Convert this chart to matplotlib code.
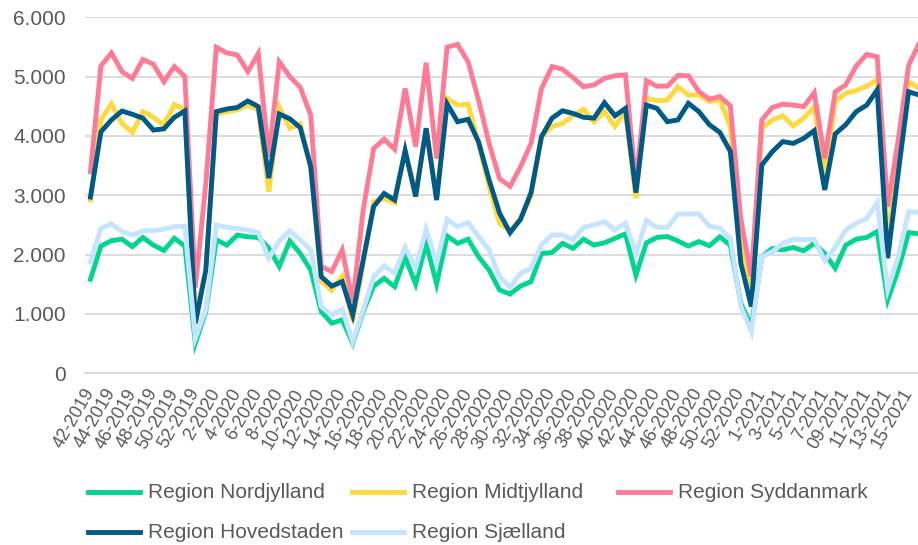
import matplotlib
matplotlib.use("Agg")
import matplotlib.pyplot as plt
from matplotlib.lines import Line2D
from matplotlib.ticker import FuncFormatter

plt.rcParams['font.family'] = ['Liberation Sans', 'DejaVu Sans']

weeks = ([f"{w}-2019" for w in range(42, 53)]
         + [f"{w}-2020" for w in range(1, 54)]
         + [("09" if w == 9 else str(w)) + "-2021" for w in range(1, 17)])

nordjylland = [1585, 2145, 2235, 2260, 2135, 2290, 2160, 2070, 2275, 2145,
               505, 1040, 2250, 2160, 2330, 2300, 2290, 2110, 1800, 2230,
               2020, 1740, 1040, 845, 900, 505, 1040, 1470, 1600, 1460,
               1955, 1505, 2190, 1505, 2315, 2190, 2260, 1965, 1740, 1405,
               1335, 1470, 1545, 2020, 2035, 2190, 2105, 2260, 2160, 2200,
               2275, 2350, 1655, 2200, 2290, 2305, 2230, 2145, 2220, 2150,
               2300, 2160, 1180, 790, 1965, 2105, 2080, 2120, 2065, 2190,
               2020, 1770, 2160, 2260, 2290, 2390, 1235, 1740, 2370, 2350]

midtjylland = [2920, 4270, 4540, 4210, 4060, 4410, 4315, 4185, 4530, 4440,
               950, 1750, 4370, 4410, 4440, 4520, 4440, 3060, 4480, 4130,
               4200, 3500, 1550, 1400, 1630, 880, 1850, 2890, 2950, 2875,
               3775, 3030, 4130, 2950, 4635, 4520, 4535, 3875, 3145, 2530,
               2400, 2610, 2980, 3990, 4160, 4210, 4340, 4450, 4240, 4410,
               4160, 4410, 2950, 4635, 4595, 4605, 4830, 4690, 4690, 4580,
               4610, 4150, 2200, 1400, 4130, 4270, 4340, 4170, 4300, 4495,
               3315, 4580, 4720, 4765, 4840, 4945, 2250, 3540, 4915, 4800]

syddanmark = [3400, 5180, 5400, 5085, 4970, 5290, 5210, 4915, 5170, 5000,
              1450, 3200, 5495, 5400, 5365, 5085, 5390, 3650, 5250, 5000,
              4820, 4350, 1800, 1715, 2080, 1200, 2750, 3790, 3945, 3775,
              4800, 3820, 5235, 3620, 5495, 5545, 5250, 4605, 3875, 3280,
              3150, 3480, 3875, 4800, 5170, 5125, 4985, 4830, 4860, 4970,
              5015, 5030, 3200, 4930, 4840, 4840, 5020, 5015, 4750, 4620,
              4665, 4510, 2600, 1630, 4270, 4480, 4535, 4520, 4495, 4730,
              3620, 4745, 4860, 5180, 5375, 5335, 2810, 3930, 5195, 5560]

hovedstaden = [2970, 4070, 4270, 4420, 4365, 4300, 4100, 4120, 4315, 4420,
               840, 1740, 4410, 4455, 4480, 4590, 4495, 3290, 4370, 4290,
               4140, 3480, 1630, 1470, 1545, 985, 1910, 2810, 3030, 2920,
               3750, 2980, 4130, 2920, 4540, 4240, 4280, 3900, 3260, 2700,
               2370, 2595, 3045, 3990, 4300, 4425, 4380, 4315, 4300, 4560,
               4340, 4465, 3045, 4520, 4465, 4240, 4270, 4550, 4410, 4190,
               4060, 3740, 1855, 1125, 3510, 3735, 3905, 3875, 3960, 4090,
               3090, 4035, 4190, 4410, 4520, 4775, 1940, 3370, 4745, 4690]

sjaelland = [1880, 2440, 2520, 2390, 2330, 2400, 2405, 2430, 2470, 2480,
             590, 1070, 2500, 2460, 2440, 2415, 2370, 1940, 2230, 2400,
             2250, 2080, 1125, 985, 1080, 535, 1070, 1630, 1810, 1685,
             2125, 1770, 2430, 1855, 2595, 2470, 2540, 2305, 2080, 1630,
             1450, 1685, 1770, 2165, 2330, 2330, 2250, 2460, 2500, 2555,
             2415, 2530, 2020, 2575, 2460, 2460, 2685, 2685, 2685, 2480,
             2445, 2275, 1125, 700, 1965, 2050, 2190, 2260, 2250, 2260,
             1900, 2125, 2415, 2530, 2610, 2875, 1405, 1965, 2725, 2710]

series_names = ["Region Nordjylland", "Region Midtjylland", "Region Syddanmark",
                "Region Hovedstaden", "Region Sjælland"]
series_values = [nordjylland, midtjylland, syddanmark, hovedstaden, sjaelland]
colors = ["#00D68F", "#FFD93D", "#FF7B95", "#005A87", "#C5E4FF"]

W, H = 918, 545
fig = plt.figure(figsize=(W / 100, H / 100), dpi=100)
x0, x1 = 85.2, 924.4
ytop, ybot = 17.3, 373.3
ax = fig.add_axes([x0 / W, (H - ybot) / H, (x1 - x0) / W, (ybot - ytop) / H])

x = list(range(len(weeks)))
for name, vals, c in zip(series_names, series_values, colors):
    ax.plot(x, vals, color=c, lw=3.5, solid_joinstyle='miter', label=name)

ax.set_xlim(-0.5, len(weeks) - 0.5)
ax.set_ylim(0, 6000)
ax.set_yticks(range(0, 6001, 1000))
ax.yaxis.set_major_formatter(FuncFormatter(lambda v, p: f"{int(v):,}".replace(",", ".")))
ax.grid(axis='y', color='#D9D9D9', lw=1.3)
ax.set_axisbelow(True)
for s in ['top', 'right', 'left']:
    ax.spines[s].set_visible(False)
ax.spines['bottom'].set_color('#D9D9D9')
ax.spines['bottom'].set_linewidth(1.5)

ax.set_xticks(x[::2])
ax.set_xticklabels(weeks[::2], rotation=60, ha='right', va='center',
                   rotation_mode='anchor', fontsize=13, color='#595959')
ax.tick_params(axis='x', length=0, pad=12)
ax.tick_params(axis='y', length=0, pad=14, labelsize=15, labelcolor='#595959')

# legend (Excel-style fixed columns)
leg_pos = [(88, 492), (352, 492), (618, 492), (88, 532), (352, 532)]
for (lx, ly), name, c in zip(leg_pos, series_names, colors):
    fig.add_artist(Line2D([lx / W, (lx + 52) / W], [(H - ly) / H, (H - ly) / H],
                          color=c, lw=3.5, transform=fig.transFigure))
    fig.text((lx + 60) / W, (H - ly) / H, name, fontsize=15, color='#595959',
             ha='left', va='center')

fig.savefig("out.png", dpi=100)
